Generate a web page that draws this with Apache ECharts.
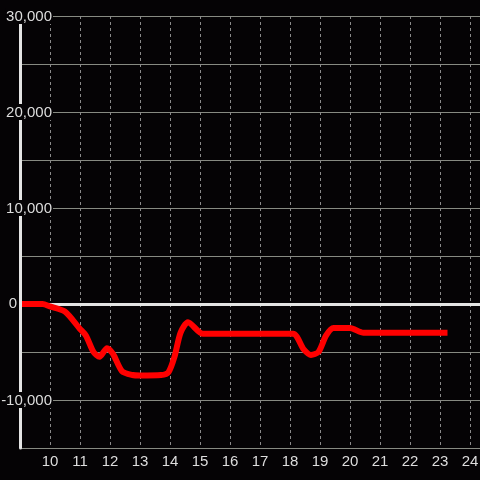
<!DOCTYPE html>
<html>
<head>
<meta charset="utf-8">
<script src="https://cdn.jsdelivr.net/npm/echarts@6/dist/echarts.min.js"></script>
<style>
  html, body { margin: 0; padding: 0; background: #050305; }
  #chart { width: 480px; height: 480px; }
</style>
</head>
<body>
<div id="chart"></div>
<script>
// Data (hours of day, value)
const hours = [9.0, 9.75, 10.0, 10.5, 11.0, 11.2, 11.45, 11.65, 11.9, 12.1, 12.4, 12.75, 13.0, 13.7, 13.95, 14.15, 14.35, 14.6, 15.1, 18.1, 18.45, 18.7, 18.95, 19.2, 19.45, 20.0, 20.45, 23.25];
const values = [0, 0, -250, -800, -2600, -3300, -5000, -5500, -4600, -5200, -7000, -7400, -7450, -7400, -7100, -5500, -3000, -1900, -3100, -3100, -4700, -5300, -5000, -3300, -2500, -2500, -3000, -3000];
const xTickLabels = [10, 11, 12, 13, 14, 15, 16, 17, 18, 19, 20, 21, 22, 23, 24];
const yTickLabels = [-10000, 0, 10000, 20000, 30000];

const seriesData = hours.map((h, i) => [h, values[i]]);
const fmt = v => (v < 0 ? '-' : '') + Math.abs(v).toString().replace(/\B(?=(\d{3})+(?!\d))/g, ',');
const FONT = 'Liberation Sans, Arial, sans-serif';

const chart = echarts.init(document.getElementById('chart'), null, { renderer: 'canvas' });
chart.setOption({
  backgroundColor: '#050305',
  animation: false,
  grid: { left: 20, right: 0, top: 16, bottom: 32, containLabel: false, outerBoundsMode: 'none' },
  xAxis: {
    type: 'value',
    min: 9,
    max: 9 + 460 / 30,
    interval: 1,
    axisLine: { show: false },
    axisTick: { show: false },
    axisLabel: {
      color: '#dddddd',
      fontFamily: FONT,
      fontSize: 15,
      margin: 6,
      showMaxLabel: false,
      formatter: v => xTickLabels.indexOf(v) >= 0 ? String(v) : ''
    },
    splitLine: {
      show: true,
      showMinLine: false,
      showMaxLine: false,
      lineStyle: { color: '#8a8a8a', width: 1, type: [3, 3] }
    }
  },
  yAxis: [
    {
      type: 'value',
      min: -15000,
      max: 30000,
      interval: 5000,
      z: 0,
      axisLine: { show: false },
      axisTick: { show: false },
      axisLabel: { show: false },
      splitLine: { show: true, lineStyle: { color: '#878a82', width: 1, type: 'solid' } }
    },
    {
      type: 'value',
      min: -15000,
      max: 30000,
      interval: 5000,
      z: 5,
      position: 'left',
      axisLine: { show: true, onZero: false, lineStyle: { color: '#e4e4e4', width: 3 } },
      axisTick: { show: false },
      splitLine: { show: false },
      axisLabel: {
        align: 'right',
        margin: -33,
        color: '#dddddd',
        fontFamily: FONT,
        fontSize: 15,
        formatter: v => {
          if (yTickLabels.indexOf(v) < 0) return '';
          if (v === 0) return '{z|0}';
          return '{a|' + fmt(v) + '}';
        },
        rich: {
          a: {
            color: '#dddddd', fontFamily: FONT, fontSize: 15,
            backgroundColor: '#050305', padding: [1, 1, 0, 1]
          },
          z: {
            color: '#dddddd', fontFamily: FONT, fontSize: 15,
            padding: [0, 36, 0, 0]
          }
        }
      }
    }
  ],
  series: [{
    type: 'line',
    data: seriesData,
    yAxisIndex: 0,
    smooth: 0.25,
    showSymbol: false,
    symbol: 'none',
    z: 3,
    lineStyle: { color: '#ff0000', width: 6 },
    markLine: {
      silent: true,
      z: 1,
      symbol: 'none',
      label: { show: false },
      lineStyle: { color: '#e4e4e4', width: 3, type: 'solid' },
      data: [{ yAxis: 0 }]
    }
  }]
});
</script>
</body>
</html>
